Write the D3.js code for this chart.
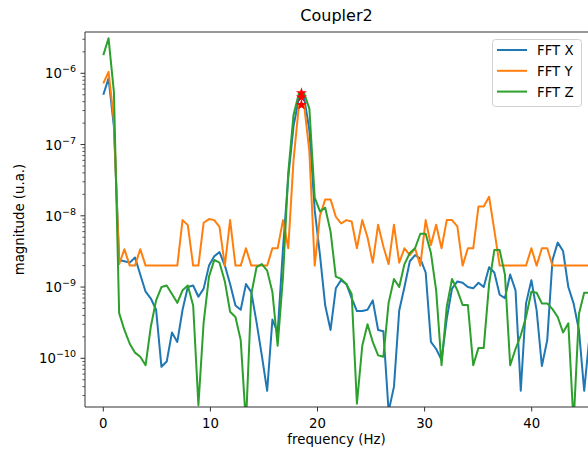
<!DOCTYPE html>
<html>
<head>
<meta charset="utf-8">
<script src="https://cdn.jsdelivr.net/npm/d3@7"></script>
<style>
  body { margin: 0; background: #fff; }
  text { font-family: "DejaVu Sans", sans-serif; fill: #000; }
</style>
</head>
<body>
<div id="chart"></div>
<script>
// frequency bins (Hz)
const freqs = [0, 0.49, 0.99, 1.48, 1.97, 2.47, 2.96, 3.45, 3.95, 4.44, 4.93, 5.43, 5.92, 6.41, 6.91, 7.40,
  7.89, 8.39, 8.88, 9.37, 9.87, 10.36, 10.85, 11.35, 11.84, 12.34, 12.83, 13.32, 13.82, 14.31, 14.80,
  15.30, 15.79, 16.28, 16.78, 17.27, 17.76, 18.26, 18.75, 19.24, 19.74, 20.23, 20.72, 21.22, 21.71,
  22.20, 22.70, 23.19, 23.68, 24.18, 24.67, 25.16, 25.66, 26.15, 26.64, 27.14, 27.63, 28.12, 28.62,
  29.11, 29.60, 30.10, 30.59, 31.08, 31.58, 32.07, 32.56, 33.06, 33.55, 34.04, 34.54, 35.03, 35.52,
  36.02, 36.51, 37.01, 37.50, 37.99, 38.49, 38.98, 39.47, 39.97, 40.46, 40.95, 41.45, 41.94, 42.43,
  42.93, 43.42, 43.91, 44.41, 44.90, 45.39];

const fftX = [5.0e-7, 8.5e-7, 1.8e-7, 2.4e-9, 2.3e-9, 2.2e-9, 2.6e-9, 1.5e-9, 8.6e-10, 6.9e-10,
  4.8e-10, 7.6e-11, 9.0e-11, 2.3e-10, 1.7e-10, 4.8e-10, 1.0e-9, 1.05e-9, 7.3e-10, 9.5e-10,
  2.0e-9, 2.7e-9, 3.1e-9, 2.0e-9, 1.1e-9, 5.5e-10, 4.8e-10, 1.1e-9, 8.5e-10, 3.2e-10,
  1.1e-10, 3.5e-11, 3.5e-10, 2.3e-10, 3.5e-9, 3.5e-8, 1.8e-7, 4.5e-7, 4.6e-7, 1.6e-7,
  1.2e-8, 2.8e-9, 5.5e-10, 2.5e-10, 9.6e-10, 1.25e-9, 1.1e-9, 7.0e-10, 4.6e-10, 4.6e-10,
  4.8e-10, 6.5e-10, 2.5e-10, 2.4e-10, 1.8e-11, 4.0e-11, 4.7e-10, 1.0e-9, 2.3e-9, 2.8e-9,
  2.5e-9, 1.6e-9, 1.7e-10, 1.35e-10, 9.5e-11, 3.6e-10, 9.5e-10, 1.2e-9, 1.15e-9, 1.0e-9,
  9.6e-10, 1.15e-9, 1.0e-9, 1.9e-9, 1.6e-9, 7.8e-10, 7.0e-10, 1.5e-9, 9.0e-10, 3.5e-11,
  5.9e-10, 1.25e-9, 4.7e-10, 7.8e-11, 1.8e-10, 2.4e-9, 4.2e-9, 3.2e-9, 1.0e-9, 5.9e-10,
  2.5e-10, 3.5e-11, 2.0e-10];

const fftY = [7.2e-7, 1.05e-6, 2.2e-7, 2.1e-9, 3.4e-9, 2.0e-9, 2.0e-9, 3.4e-9, 2.0e-9, 2.0e-9,
  2.0e-9, 2.0e-9, 2.0e-9, 2.0e-9, 2.0e-9, 8.7e-9, 7.4e-9, 2.0e-9, 2.0e-9, 8.0e-9,
  9.0e-9, 8.7e-9, 7.0e-9, 2.0e-9, 8.7e-9, 2.0e-9, 2.0e-9, 3.5e-9, 2.0e-9, 2.0e-9,
  2.0e-9, 2.0e-9, 3.5e-9, 3.5e-9, 8.7e-9, 3.5e-9, 6.0e-8, 3.5e-7, 3.6e-7, 8.0e-8,
  2.0e-9, 1.0e-8, 1.7e-8, 1.7e-8, 9.7e-9, 7.8e-9, 8.7e-9, 8.3e-9, 3.5e-9, 8.7e-9,
  5.0e-9, 2.2e-9, 7.5e-9, 3.7e-9, 2.1e-9, 7.5e-9, 2.2e-9, 3.5e-9, 2.8e-9, 3.5e-9,
  2.0e-9, 8.7e-9, 3.9e-9, 7.5e-9, 3.5e-9, 8.7e-9, 8.7e-9, 7.1e-9, 2.0e-9, 3.5e-9,
  3.5e-9, 1.35e-8, 1.35e-8, 1.85e-8, 6.3e-9, 2.0e-9, 2.0e-9, 2.0e-9, 2.0e-9, 2.0e-9,
  2.0e-9, 3.5e-9, 2.0e-9, 3.5e-9, 3.5e-9, 2.0e-9, 2.0e-9, 2.0e-9, 2.0e-9, 2.0e-9,
  2.0e-9, 2.0e-9, 2.0e-9];

const fftZ = [1.8e-6, 3.1e-6, 5.5e-7, 4.3e-10, 2.5e-10, 1.6e-10, 1.2e-10, 1.05e-10, 8.0e-11, 2.8e-10,
  6.5e-10, 1.0e-9, 1.05e-9, 8.0e-10, 6.0e-10, 9.0e-10, 1.05e-9, 5.5e-10, 2.2e-11, 3.2e-10,
  1.4e-9, 2.4e-9, 2.2e-9, 1.2e-9, 4.5e-10, 3.8e-10, 1.8e-10, 1.2e-11, 8.0e-10, 1.9e-9,
  2.1e-9, 1.7e-9, 8.5e-10, 1.5e-10, 1.4e-9, 4.0e-8, 2.6e-7, 5.2e-7, 5.3e-7, 3.2e-7,
  1.8e-8, 1.15e-8, 1.3e-8, 6.0e-9, 1.4e-9, 1.3e-9, 1.1e-9, 8.0e-10, 2.3e-11, 1.5e-10,
  3.0e-10, 1.7e-10, 1.1e-10, 1.05e-10, 6.0e-10, 1.3e-9, 1.0e-9, 2.1e-9, 3.0e-9, 3.5e-9,
  5.6e-9, 5.6e-9, 3.0e-9, 9.0e-10, 8.0e-11, 5.3e-10, 1.3e-9, 9.0e-10, 5.6e-10, 5.6e-10,
  8.0e-11, 1.4e-10, 1.4e-10, 1.1e-9, 3.3e-9, 3.3e-9, 1.5e-9, 8.0e-11, 1.35e-10, 2.1e-10,
  3.8e-10, 8.6e-10, 8.3e-10, 5.9e-10, 5.9e-10, 4.9e-10, 3.8e-10, 2.3e-10, 3.1e-10, 1.2e-11,
  4.2e-10, 8.3e-10, 8.3e-10];

// detected peak (red stars)
const peakFreqs = [18.5, 18.5, 18.5];
const peakMags = [4.6e-7, 3.6e-7, 5.3e-7];

const seriesNames = ["FFT X", "FFT Y", "FFT Z"];
const seriesColors = ["#1f77b4", "#ff7f0e", "#2ca02c"];
const xTicks = [0, 10, 20, 30, 40];
const yTickExps = [-10, -9, -8, -7, -6];

const width = 588, height = 452;
const margin = { left: 85, right: 0, top: 32, bottom: 45 };
const plotRight = width - margin.right, plotBottom = height - margin.bottom;

const svg = d3.select("#chart").append("svg")
    .attr("width", width)
    .attr("height", height);

// 10.71 px per Hz, 0 Hz at x=103.3
const pxPerHz = 10.71, x0 = 103.3;
const x = d3.scaleLinear()
    .domain([(margin.left - x0) / pxPerHz, (plotRight - x0) / pxPerHz])
    .range([margin.left, plotRight]);

// 71.25 px per decade, 1e-6 at y=73.3
const pxPerDec = 71.25, yE6 = 73.3;
const y = d3.scaleLog()
    .domain([Math.pow(10, -6 - (plotBottom - yE6) / pxPerDec), Math.pow(10, -6 + (yE6 - margin.top) / pxPerDec)])
    .range([plotBottom, margin.top]);

svg.append("clipPath").attr("id", "clip")
  .append("rect")
    .attr("x", margin.left).attr("y", margin.top)
    .attr("width", plotRight - margin.left).attr("height", plotBottom - margin.top);

// lines
const series = [fftX, fftY, fftZ];
const line = d3.line()
    .x((d, i) => x(freqs[i]))
    .y(d => y(d));

const plot = svg.append("g").attr("clip-path", "url(#clip)");
series.forEach((s, i) => {
  plot.append("path")
      .datum(s)
      .attr("fill", "none")
      .attr("stroke", seriesColors[i])
      .attr("stroke-width", 2)
      .attr("stroke-linejoin", "round")
      .attr("d", line);
});

// peak markers
plot.selectAll(".star")
  .data(peakMags)
  .join("path")
    .attr("class", "star")
    .attr("transform", (d, i) => `translate(${x(peakFreqs[i])},${y(d)})`)
    .attr("d", d3.symbol(d3.symbolStar, 38))
    .attr("fill", "red");

// spines
const axisColor = "#333";
svg.append("line").attr("x1", margin.left).attr("x2", margin.left)
    .attr("y1", margin.top).attr("y2", plotBottom)
    .attr("stroke", axisColor).attr("stroke-width", 1);
svg.append("line").attr("x1", margin.left).attr("x2", plotRight)
    .attr("y1", plotBottom).attr("y2", plotBottom)
    .attr("stroke", axisColor).attr("stroke-width", 1);
svg.append("line").attr("x1", margin.left).attr("x2", plotRight)
    .attr("y1", margin.top).attr("y2", margin.top)
    .attr("stroke", axisColor).attr("stroke-width", 1);

// x ticks
const xt = svg.append("g");
xTicks.forEach(t => {
  xt.append("line").attr("x1", x(t)).attr("x2", x(t))
      .attr("y1", plotBottom).attr("y2", plotBottom + 4.5)
      .attr("stroke", axisColor).attr("stroke-width", 1);
  xt.append("text").attr("x", x(t)).attr("y", plotBottom + 21)
      .attr("text-anchor", "middle").style("font-size", "13.3px")
      .text(t);
});

// y ticks (major + minor)
const yt = svg.append("g");
const [yMin, yMax] = y.domain();
for (let e = -11; e <= -6; e++) {
  for (let m = 1; m <= 9; m++) {
    const v = m * Math.pow(10, e);
    if (v < yMin || v > yMax) continue;
    const len = m === 1 ? 4.5 : 2.6;
    yt.append("line").attr("x1", margin.left - len).attr("x2", margin.left)
        .attr("y1", y(v)).attr("y2", y(v))
        .attr("stroke", axisColor).attr("stroke-width", m === 1 ? 1 : 0.8);
  }
}
yTickExps.forEach(e => {
  const t = yt.append("text")
      .attr("x", margin.left - 9)
      .attr("y", y(Math.pow(10, e)) + 5)
      .attr("text-anchor", "end")
      .style("font-size", "13.3px");
  t.append("tspan").text("10");
  t.append("tspan").attr("dy", -6).style("font-size", "9.5px").text("\u2212" + Math.abs(e));
});

// labels
svg.append("text")
    .attr("x", (margin.left + plotRight) / 2).attr("y", 444)
    .attr("text-anchor", "middle").style("font-size", "13.3px")
    .text("frequency (Hz)");

svg.append("text")
    .attr("transform", `translate(24,${(margin.top + plotBottom) / 2}) rotate(-90)`)
    .attr("text-anchor", "middle").style("font-size", "13.3px")
    .text("magnitude (u.a.)");

svg.append("text")
    .attr("x", (margin.left + plotRight) / 2).attr("y", 21)
    .attr("text-anchor", "middle").style("font-size", "16px")
    .text("Coupler2");

// legend
const legend = svg.append("g");
legend.append("rect")
    .attr("x", 492.5).attr("y", 39.5).attr("width", 89).attr("height", 67)
    .attr("rx", 3)
    .attr("fill", "white").attr("fill-opacity", 0.8)
    .attr("stroke", "#d0d0d0").attr("stroke-width", 1);
seriesNames.forEach((name, i) => {
  const ly = 50 + i * 20.8;
  legend.append("line")
      .attr("x1", 497).attr("x2", 527)
      .attr("y1", ly).attr("y2", ly)
      .attr("stroke", seriesColors[i]).attr("stroke-width", 2);
  legend.append("text")
      .attr("x", 537).attr("y", ly + 5)
      .style("font-size", "13.3px")
      .text(name);
});
</script>
</body>
</html>
